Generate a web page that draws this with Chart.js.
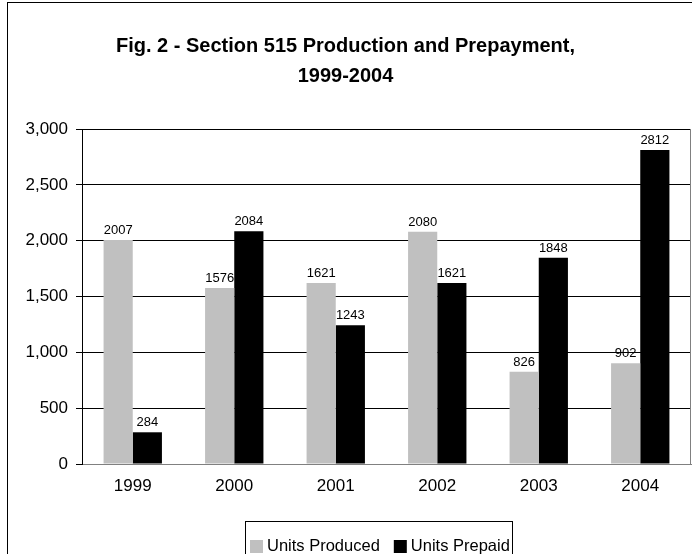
<!DOCTYPE html>
<html>
<head>
<meta charset="utf-8">
<script src="https://cdn.jsdelivr.net/npm/chart.js@4"></script>
<style>
  html, body { margin: 0; padding: 0; background: #fff; }
  #wrap { width: 692px; height: 554px; }
</style>
</head>
<body>
<div id="wrap"><canvas id="barChart" width="692" height="554"></canvas></div>
<script>
const years = ["1999", "2000", "2001", "2002", "2003", "2004"];
const unitsProduced = [2007, 1576, 1621, 2080, 826, 902];
const unitsPrepaid = [284, 2084, 1243, 1621, 1848, 2812];
const titleLines = ["Fig. 2 - Section 515 Production and Prepayment,", "1999-2004"];

const FONT = "'Liberation Sans', Arial, sans-serif";

// frame round the whole chart + right edge of the plot
const framePlugin = {
  id: "frame",
  beforeDraw(chart) {
    const ctx = chart.ctx;
    ctx.save();
    ctx.fillStyle = "#fff";
    ctx.fillRect(0, 0, chart.width, chart.height);
    ctx.strokeStyle = "#000";
    ctx.lineWidth = 1;
    ctx.strokeRect(7.5, 2.5, chart.width + 20, chart.height + 20);
    ctx.restore();
  },
  afterDraw(chart) {
    const a = chart.chartArea;
    const ctx = chart.ctx;
    ctx.save();
    ctx.strokeStyle = "#808080";
    ctx.beginPath();
    ctx.moveTo(a.right - 0.5, a.top);
    ctx.lineTo(a.right - 0.5, a.bottom);
    ctx.stroke();
    ctx.restore();
  },
};

// value labels above the bars
const valueLabels = {
  id: "valueLabels",
  afterDatasetsDraw(chart) {
    const ctx = chart.ctx;
    ctx.save();
    ctx.font = "13px " + FONT;
    ctx.fillStyle = "#000";
    ctx.textAlign = "center";
    ctx.textBaseline = "bottom";
    chart.data.datasets.forEach((ds, i) => {
      chart.getDatasetMeta(i).data.forEach((bar, j) => {
        ctx.fillText(String(ds.data[j]), bar.x, bar.y - 3);
      });
    });
    ctx.restore();
  },
};

// boxed legend at the bottom
const boxLegend = {
  id: "boxLegend",
  afterDraw(chart) {
    const ctx = chart.ctx;
    ctx.save();
    ctx.strokeStyle = "#000";
    ctx.strokeRect(245.5, 521.5, 267, 60);
    ctx.font = "16.5px " + FONT;
    ctx.textBaseline = "middle";
    let x = 250;
    const y = 546;
    chart.data.datasets.forEach((ds) => {
      ctx.fillStyle = ds.backgroundColor;
      ctx.fillRect(x, y - 6, 13, 13);
      x += 17;
      ctx.fillStyle = "#000";
      ctx.fillText(ds.label, x, y);
      x += ctx.measureText(ds.label).width + 14;
    });
    ctx.restore();
  },
};

const barChartConfig = {
  type: "bar",
  data: {
    labels: years,
    datasets: [
      {
        label: "Units Produced",
        data: unitsProduced,
        backgroundColor: "#c0c0c0",
        borderWidth: 0,
      },
      {
        label: "Units Prepaid",
        data: unitsPrepaid,
        backgroundColor: "#000000",
        borderWidth: 0,
      },
    ],
  },
  options: {
    responsive: false,
    animation: false,
    devicePixelRatio: 1,
    layout: {
      padding: { left: 0, right: 1, top: 0, bottom: 60 },
    },
    datasets: {
      bar: { categoryPercentage: 0.575, barPercentage: 1 },
    },
    plugins: {
      legend: { display: false },
      tooltip: { enabled: false },
      title: {
        display: true,
        text: titleLines,
        color: "#000",
        font: { family: FONT, size: 20, weight: "bold", lineHeight: 1.5 },
        padding: { top: 31, bottom: 38 },
      },
    },
    scales: {
      x: {
        grid: { display: false, drawTicks: false },
        border: { color: "#808080", width: 1 },
        ticks: { color: "#000", font: { family: FONT, size: 17 }, padding: 12 },
        afterFit(scale) {
          scale.height = 30;
        },
      },
      y: {
        min: 0,
        max: 3000,
        ticks: {
          stepSize: 500,
          color: "#000",
          font: { family: FONT, size: 17 },
          padding: 8,
        },
        grid: { color: "#000", tickLength: 6, tickColor: "#000" },
        border: { color: "#000", width: 1 },
        afterFit(scale) {
          scale.width = 82;
        },
      },
    },
  },
  plugins: [framePlugin, valueLabels, boxLegend],
};

const barChart = new Chart(document.getElementById("barChart"), barChartConfig);
</script>
</body>
</html>
